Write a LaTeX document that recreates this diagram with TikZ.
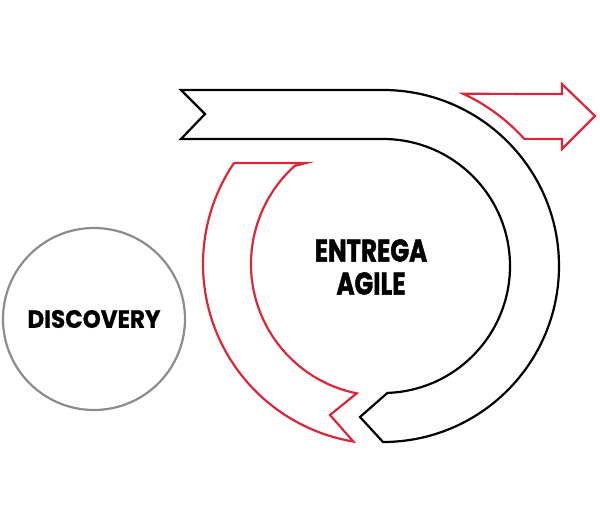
\documentclass[tikz,border=0pt]{standalone}
\usepackage{fontspec}
\setmainfont{Poppins}
\newfontfamily\discfont[FakeStretch=0.92, FakeBold=0.8]{Poppins}
\newfontfamily\agilefont[FakeStretch=0.78, FakeBold=1.4]{Poppins}
\usepackage{tikz}

\definecolor{agilered}{RGB}{221,39,57}
\definecolor{discgray}{RGB}{140,140,140}

\tikzset{
    band/.style={draw=black, line width=2.2pt, line join=miter},
    redband/.style={draw=agilered, line width=2.2pt, line join=miter},
    label/.style={align=center}
}

\begin{document}
\begin{tikzpicture}[x=1pt, y=-1pt]
    \useasboundingbox (0,0) rectangle (600,529);
    \coordinate (bc) at (383,266);
    \coordinate (rc) at (383,264);

    % Nodes
    \node[draw=discgray, line width=2.2pt, circle, minimum size=182pt] (discovery) at (94,319) {};
    \node[label, font=\discfont\bfseries\fontsize{25}{30}\selectfont] at (discovery) {DISCOVERY};
    \node[label, font=\agilefont\bfseries\fontsize{31.5}{33}\selectfont] (entrega) at (371,267) {ENTREGA\\AGILE};

    % Black loop
    \draw[band] (181,90) -- (383,90) arc[start angle=-90, end angle=90, radius=176]
        -- (360,417) -- ([shift={(88:127)}]bc) arc[start angle=88, end angle=-90, radius=127]
        -- (181,139) -- (205,114) -- cycle;

    % Red return
    \draw[redband] (306,163) -- (236,163) -- ([shift={(214:180)}]rc) arc[start angle=214, end angle=99.5, radius=180]
        -- (330,415) -- ([shift={(101.5:132)}]rc) arc[start angle=101.5, end angle=228, radius=132]
        -- cycle;

    % Red exit arrow
    \draw[redband] ([shift={(-65:190)}]bc) -- (562,94) -- (562,84) -- (595,116) -- (562,149) -- (562,139)
        -- ([shift={(-42:190)}]bc) arc[start angle=-42, end angle=-65, radius=190] -- cycle;
\end{tikzpicture}
\end{document}
